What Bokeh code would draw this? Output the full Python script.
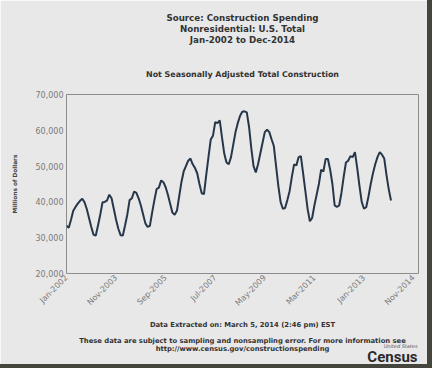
import math
from bokeh.plotting import figure
from bokeh.models import FixedTicker, NumeralTickFormatter, Range1d, ColumnDataSource, Title
from bokeh.embed import file_html
from bokeh.resources import INLINE

# Monthly nonresidential construction spending (millions of dollars), Jan-2002 .. Jan-2014
values = [
    33300, 32800, 35000, 37500, 38600, 39500, 40300, 40900, 39900, 38000, 35500, 33000,  # 2002
    30800, 30600, 33500, 36500, 39900, 40000, 40400, 42000, 41000, 38000, 35000, 32500,  # 2003
    30700, 30600, 33500, 36500, 40500, 41000, 42900, 42500, 41000, 39000, 36500, 34000,  # 2004
    33000, 33300, 37000, 40500, 43600, 44000, 46000, 45500, 44100, 42000, 39500, 37000,  # 2005
    36400, 37500, 41500, 45500, 48500, 50000, 51500, 52100, 50500, 49500, 48000, 45000,  # 2006
    42400, 42200, 47500, 52500, 57400, 58500, 62300, 62000, 62800, 58000, 53500, 51000,  # 2007
    50500, 52500, 56000, 59500, 62000, 64000, 65200, 65300, 65000, 61000, 55000, 50000,  # 2008
    48200, 50500, 53500, 56500, 59500, 60200, 59500, 57500, 55600, 50000, 44500, 40000,  # 2009
    38100, 38300, 40500, 43000, 47000, 50500, 50200, 52500, 52800, 48000, 43000, 38000,  # 2010
    34600, 35500, 39000, 42000, 45000, 49000, 48500, 52000, 52000, 49000, 45000, 39000,  # 2011
    38600, 39000, 42500, 47000, 51000, 51500, 52800, 52500, 53900, 49500, 44500, 40000,  # 2012
    38100, 38500, 41500, 45000, 48000, 50500, 52500, 53900, 53200, 52100, 47500, 43500,  # 2013
    40400,                                                                                # 2014
]
months = list(range(len(values)))

x_tick_months = [0, 22, 44, 66, 88, 110, 132, 154]
x_tick_labels = ["Jan-2002", "Nov-2003", "Sep-2005", "Jul-2007",
                 "May-2009", "Mar-2011", "Jan-2013", "Nov-2014"]
y_ticks = [20000, 30000, 40000, 50000, 60000, 70000]

title_lines = ["Source: Construction Spending", "Nonresidential: U.S. Total", "Jan-2002 to Dec-2014"]
subtitle = "Not Seasonally Adjusted Total Construction"
footer_lines = ["Data Extracted on: March 5, 2014 (2:46 pm) EST",
                "These data are subject to sampling and nonsampling error. For more information see",
                "http://www.census.gov/constructionspending"]

BG = "#e8e8e8"
TXT = "#333333"
EDGE = "#46453d"


def ttl(text, fs, size, font="DejaVu Sans", style="bold", color=TXT, align="center", offset=0):
    h = 1.164 * fs
    return Title(text=text, text_font=font, text_font_size=f"{fs}px", text_font_style=style,
                 text_color=color, align=align, vertical_align="middle", offset=offset,
                 standoff=size - 2 - h)


p = figure(width=432, height=368, output_backend="svg", toolbar_location=None,
           x_range=Range1d(0, 156.2), y_range=Range1d(20000, 70000),
           min_border_left=66, min_border_right=14, min_border_top=94, min_border_bottom=92,
           background_fill_color=BG, border_fill_color=BG,
           outline_line_color="#8c8c8c", outline_line_width=1)
p.styles = {"border-right": f"5px solid {EDGE}", "border-bottom": f"4px solid {EDGE}"}

src = ColumnDataSource(dict(x=months, y=values))
p.line("x", "y", source=src, line_color="#26374a", line_width=2)
p.grid.visible = False

p.xaxis.ticker = FixedTicker(ticks=x_tick_months)
p.xaxis.major_label_overrides = {m: l for m, l in zip(x_tick_months, x_tick_labels)}
p.xaxis.major_label_orientation = math.pi / 4
p.yaxis.ticker = FixedTicker(ticks=y_ticks)
p.yaxis.formatter = NumeralTickFormatter(format="0,0")
for ax in (p.xaxis[0], p.yaxis[0]):
    ax.axis_line_color = None
    ax.major_tick_line_color = None
    ax.minor_tick_line_color = None
    ax.major_tick_out = 0
    ax.major_label_text_font = "DejaVu Sans"
    ax.major_label_text_font_size = "8px"
    ax.major_label_text_color = "#7a7a7a"
    ax.major_label_standoff = 3

p.yaxis.axis_label = "Millions of Dollars"
p.yaxis.axis_label_text_font = "DejaVu Sans"
p.yaxis.axis_label_text_font_size = "5.8px"
p.yaxis.axis_label_text_font_style = "bold"
p.yaxis.axis_label_text_color = "#444444"
p.yaxis.axis_label_standoff = 15

# ---- titles above (first = nearest the plot frame) ----
p.add_layout(ttl(subtitle, 7.9, 40.6), "above")
p.add_layout(ttl(" ", 1, 8.6), "above")
p.add_layout(ttl(title_lines[2], 8.7, 11), "above")
p.add_layout(ttl(title_lines[1], 8.7, 11), "above")
p.add_layout(ttl(title_lines[0], 8.7, 11), "above")
p.add_layout(ttl(" ", 1, 11.8), "above")

# ---- notes below the x axis (x axis panel is ~37.7 px) ----
p.add_layout(ttl(footer_lines[0], 6.8, 22.6), "below")
p.add_layout(ttl(footer_lines[1], 6.8, 9.4), "below")
p.add_layout(ttl("United States", 5, 0, style="italic", color="#555555", align="right", offset=1), "below")
p.add_layout(ttl(footer_lines[2], 6.8, 7.2), "below")
p.add_layout(ttl("Census", 15, 8.2, font="Roboto", color="#2a2a2a", align="right", offset=1), "below")
p.add_layout(ttl("Bureau", 4, 6.9, style="normal", color="#555555", align="right", offset=2), "below")

open("out.html", "w").write(file_html(p, INLINE))
